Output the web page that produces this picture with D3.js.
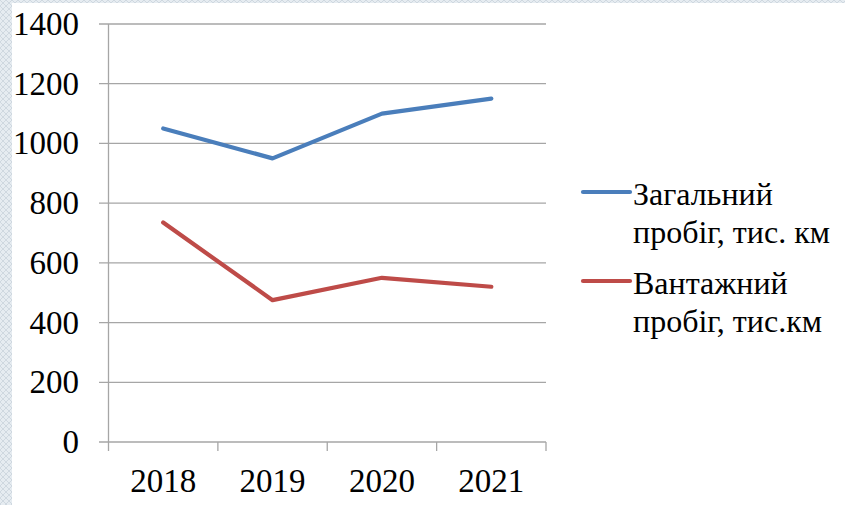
<!DOCTYPE html>
<html><head><meta charset="utf-8">
<script src="https://cdn.jsdelivr.net/npm/d3@7"></script>
<style>
html,body{margin:0;padding:0;width:845px;height:505px;overflow:hidden;background:#fff}
svg{display:block}
</style></head>
<body>
<svg id="c" width="845" height="505" font-family="Liberation Serif">
<text x="-100" y="-100" font-size="32" font-family="Liberation Serif" fill="#fff">0123456789 Загальний пробіг</text>
</svg>
<script>
const categories = ["2018","2019","2020","2021"];
const seriesNames = [["Загальний","пробіг, тис. км"],["Вантажний","пробіг, тис.км"]];
const totalMileage = [1050, 950, 1100, 1150];
const cargoMileage = [735, 475, 550, 520];
const yTicks = [0,200,400,600,800,1000,1200,1400];
const colors = ["#4a7ebb","#be4b48"];

(function(){
const svg = d3.select("#c");
const FF = "Liberation Serif";
const defs = svg.append("defs");
const pat = defs.append("pattern").attr("id","tex").attr("width",6).attr("height",6).attr("patternUnits","userSpaceOnUse");
pat.append("rect").attr("width",6).attr("height",6).attr("fill","#e6ecf1");
pat.append("path").attr("d","M0,0L6,6M6,0L0,6").attr("stroke","#cfd8e0").attr("stroke-width",1);
svg.insert("rect",":first-child").attr("x",12).attr("y",3).attr("width",833).attr("height",502).attr("fill","#fff");
svg.insert("rect",":first-child").attr("width",845).attr("height",505).attr("fill","url(#tex)");

const pl = 108.5, pr = 546, pt = 24, pb = 442;
const x = d3.scaleBand().domain(categories).range([pl,pr]).padding(0);
const y = d3.scaleLinear().domain([0,1400]).range([pb,pt]);

const g = svg.append("g").attr("font-family",FF);
g.selectAll(".grid").data(yTicks).join("line")
  .attr("x1",99).attr("x2",pr).attr("y1",d=>y(d)).attr("y2",d=>y(d))
  .attr("stroke","#a6a6a6").attr("stroke-width",1.3);
g.append("line").attr("x1",pl).attr("x2",pl).attr("y1",pt).attr("y2",pb+9)
  .attr("stroke","#a6a6a6").attr("stroke-width",1.3);
g.selectAll(".xt").data(categories).join("line")
  .attr("x1",d=>x(d)+x.bandwidth()).attr("x2",d=>x(d)+x.bandwidth())
  .attr("y1",pb).attr("y2",pb+9)
  .attr("stroke","#a6a6a6").attr("stroke-width",1.3);

g.selectAll(".yl").data(yTicks).join("text")
  .attr("x",79).attr("y",d=>y(d)+11).attr("text-anchor","end")
  .attr("font-family",FF).attr("font-size",33).attr("fill","#000").text(d=>d);
g.selectAll(".xl").data(categories).join("text")
  .attr("x",d=>x(d)+x.bandwidth()/2).attr("y",492).attr("text-anchor","middle")
  .attr("font-family",FF).attr("font-size",33).attr("fill","#000").text(d=>d);

const line = d3.line().x((d,i)=>x(categories[i])+x.bandwidth()/2).y(d=>y(d));
[totalMileage,cargoMileage].forEach((s,i)=>{
  g.append("path").attr("d",line(s)).attr("fill","none").attr("stroke",colors[i])
   .attr("stroke-width",4.2).attr("stroke-linejoin","round").attr("stroke-linecap","round");
});

const legY = [192, 281];
seriesNames.forEach((n,i)=>{
  g.append("line").attr("x1",583).attr("x2",630).attr("y1",legY[i]).attr("y2",legY[i])
   .attr("stroke",colors[i]).attr("stroke-width",4.2).attr("stroke-linecap","round");
  const t = g.append("text").attr("font-family",FF).attr("font-size",32).attr("fill","#000");
  t.append("tspan").attr("x",633).attr("y",legY[i]+13).text(n[0]);
  t.append("tspan").attr("x",633).attr("y",legY[i]+51).text(n[1]);
});
})();
</script>
</body></html>
